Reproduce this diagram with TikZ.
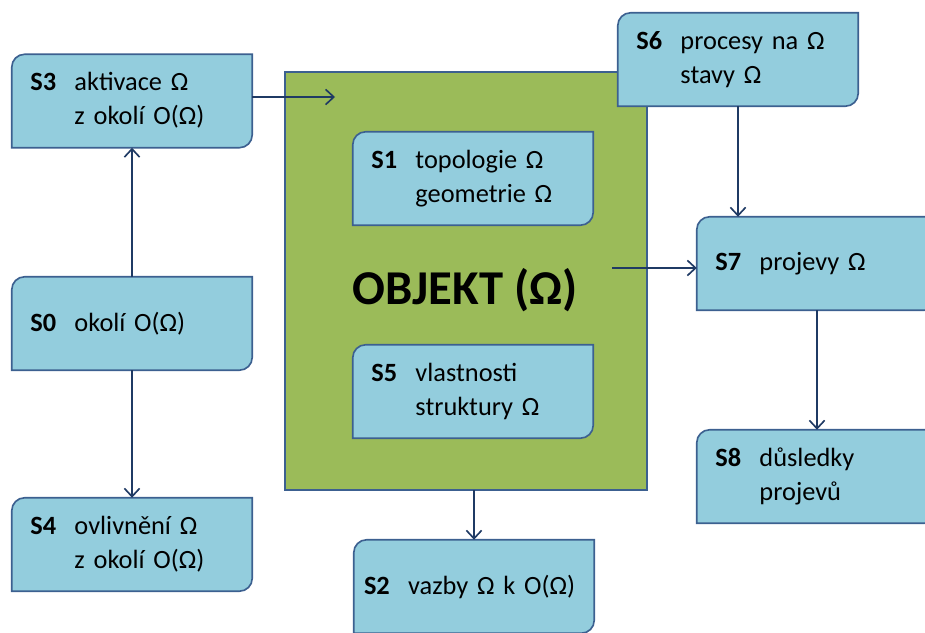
\documentclass[tikz,border=0pt]{standalone}
\usepackage{fontspec}
\setmainfont{Carlito}
\usetikzlibrary{arrows.meta}
\definecolor{modra}{HTML}{93CDDD}
\definecolor{okraj}{HTML}{3C6090}
\definecolor{zelena}{HTML}{9BBB59}
\definecolor{sipka}{HTML}{1F3A64}
\pgfdeclarelayer{zadni}
\pgfdeclarelayer{stredni}
\pgfsetlayers{zadni,stredni,main}
\def\dva#1#2#3{\begin{tabular}{@{}l@{\hspace{0.55cm}}l@{}}\textbf{#1} & #2\\ & #3\end{tabular}}
\def\jeden#1#2{\mbox{\textbf{#1}\hspace{0.55cm}#2}}
\def\tvar#1{\draw[tvar] (#1.north east) -- ([yshift=11pt]#1.south east) arc[start angle=0,end angle=-90,radius=11pt] -- (#1.south west) -- ([yshift=-11pt]#1.north west) arc[start angle=180,end angle=90,radius=11pt] -- cycle;}

\begin{document}
\begin{tikzpicture}[x=0.3cm,y=0.3cm]
\tikzstyle{every node}+=[inner sep=0pt, font=\fontsize{22.5}{29}\selectfont]
\tikzstyle{stav}=[minimum width=7.2cm, minimum height=2.79cm, text width=6.1cm, align=left]
\tikzstyle{tvar}=[fill=modra, draw=okraj, line width=1.4pt]
\tikzstyle{pil}=[draw=sipka, line width=1.4pt, -{Straight Barb[length=7pt,width=13pt]}]
\useasboundingbox (0,0) rectangle (92.5,-63.3);
\node[minimum width=10.86cm, minimum height=12.54cm] (obj) at (46.6,-28.1) {};
\node[font=\fontsize{41.5}{44}\selectfont\bfseries] (nazev) at (46.5,-29.0) {OBJEKT (Ω)};
\node[stav] (s3) at (13.2,-10.1) {\dva{S3}{aktivace Ω}{z okolí O(Ω)}};
\node[stav] (s0) at (13.2,-32.35) {\jeden{S0}{okolí O(Ω)}};
\node[stav] (s4) at (13.2,-54.45) {\dva{S4}{ovlivnění Ω}{z okolí O(Ω)}};
\node[stav] (s1) at (47.3,-17.85) {\dva{S1}{topologie Ω}{geometrie Ω}};
\node[stav] (s5) at (47.3,-39.15) {\dva{S5}{vlastnosti}{struktury Ω}};
\node[stav, text width=6.6cm] (s2) at (47.4,-58.65) {\jeden{S2}{vazby Ω k O(Ω)}};
\node[stav] (s6) at (73.8,-5.95) {\dva{S6}{procesy na Ω}{stavy Ω}};
\node[stav] (s7) at (81.7,-26.35) {\jeden{S7}{projevy Ω}};
\node[stav] (s8) at (81.7,-47.65) {\dva{S8}{důsledky}{projevů}};
\coordinate (vstup) at (33.5,-9.7);
\coordinate (vystup) at (61.2,-26.8);
\begin{pgfonlayer}{zadni}
\fill[white] (0,0) rectangle (92.5,-63.3);
\draw[fill=zelena, draw=okraj, line width=1.4pt] (obj.south west) rectangle (obj.north east);
\end{pgfonlayer}
\begin{pgfonlayer}{stredni}
\tvar{s0} \tvar{s1} \tvar{s2} \tvar{s3} \tvar{s4}
\tvar{s5} \tvar{s6} \tvar{s7} \tvar{s8}
\end{pgfonlayer}
\draw[pil] (s0) -- (s3);
\draw[pil] (s0) -- (s4);
\draw[pil] (s3.east |- vstup) -- (vstup);
\draw[pil] (s6.south) -- (s6.south |- s7.north);
\draw[pil] (vystup) -- (s7.west |- vystup);
\draw[pil] (s7) -- (s8);
\draw[pil] (s2.north |- obj.south) -- (s2.north);
\end{tikzpicture}
\end{document}
